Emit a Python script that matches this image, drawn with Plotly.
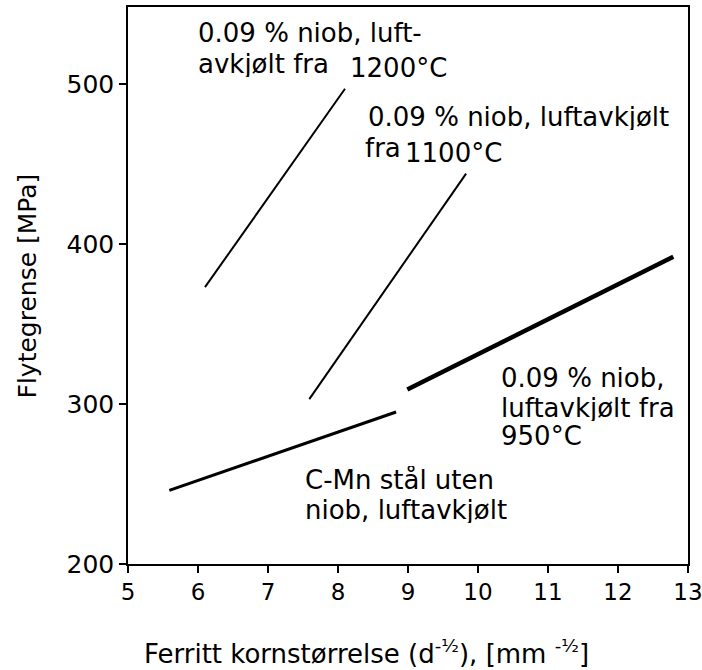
import plotly.graph_objects as go

# Line data (ferrite grain size d^-1/2 vs yield strength MPa)
nb1200_x = [6.1, 8.1]
nb1200_y = [373, 497]
nb1100_x = [7.59, 9.83]
nb1100_y = [303, 444]
cmn_x = [5.59, 8.83]
cmn_y = [246, 295]
nb950_x = [8.99, 12.79]
nb950_y = [309, 392]

x_ticks = [5, 6, 7, 8, 9, 10, 11, 12, 13]
y_ticks = [200, 300, 400, 500]

labels = [
    ("0.09 % niob, luft-", 5.97, 531.9),
    ("avkjølt fra", 5.97, 513.1),
    ("1200°C", 8.14, 510.0),
    ("0.09 % niob, luftavkjølt", 8.40, 479.4),
    ("fra", 8.36, 460.6),
    ("1100°C", 8.93, 456.9),
    ("0.09 % niob,", 10.30, 316.3),
    ("luftavkjølt fra", 10.30, 298.1),
    ("950°C", 10.30, 280.6),
    ("C-Mn stål uten", 7.50, 252.5),
    ("niob, luftavkjølt", 7.50, 233.8),
]

FONT = "DejaVu Sans"
FS = 26

fig = go.Figure()
for xs, ys, w in [(nb1200_x, nb1200_y, 2), (nb1100_x, nb1100_y, 2),
                  (cmn_x, cmn_y, 3), (nb950_x, nb950_y, 4.5)]:
    fig.add_trace(go.Scatter(x=xs, y=ys, mode="lines",
                             line=dict(color="black", width=w),
                             showlegend=False, hoverinfo="skip"))

for txt, x, y in labels:
    fig.add_annotation(x=x, y=y, xref="x", yref="y", text=txt, showarrow=False,
                       xanchor="left", yanchor="middle", height=27,
                       font=dict(family=FONT, size=FS, color="black"))

fig.add_annotation(x=0.025, y=-0.158, xref="paper", yref="paper",
                   text="Ferritt kornstørrelse (d<sup>-½</sup>), [mm <sup>-½</sup>]",
                   showarrow=False, xanchor="left", yanchor="middle",
                   font=dict(family=FONT, size=26, color="black"))
fig.add_annotation(x=-0.1786, y=0.5, xref="paper", yref="paper",
                   text="Flytegrense [MPa]", textangle=-90,
                   showarrow=False, xanchor="center", yanchor="middle",
                   font=dict(family=FONT, size=25, color="black"))

xr = [5, 13]
yr = [200, 548.1]
common = dict(showgrid=False, zeroline=False, tickcolor="black", ticklen=7,
              tickwidth=1.5, automargin=False)
fig.update_layout(
    width=702, height=670,
    margin=dict(l=128, r=14, t=7, b=106),
    paper_bgcolor="white", plot_bgcolor="white",
    font=dict(family=FONT, size=FS, color="black"),
    xaxis=dict(range=xr, tickvals=x_ticks, ticks="outside", showline=True,
               linecolor="black", linewidth=1.5, mirror=True,
               ticklabeloverflow="allow",
               tickfont=dict(family=FONT, size=23, color="black"), **common),
    yaxis=dict(range=yr, tickvals=y_ticks, ticks="outside", showline=True,
               linecolor="black", linewidth=1.5, mirror=True,
               ticklabeloverflow="allow",
               tickfont=dict(family=FONT, size=25, color="black"), **common),
    xaxis2=dict(range=xr, tickvals=x_ticks, ticks="inside", overlaying="x",
                anchor="y", side="bottom", showticklabels=False,
                showline=False, **common),
    yaxis2=dict(range=yr, tickvals=y_ticks, ticks="inside", overlaying="y",
                anchor="x", side="left", showticklabels=False,
                showline=False, **common),
)
fig.write_html("out.html")
